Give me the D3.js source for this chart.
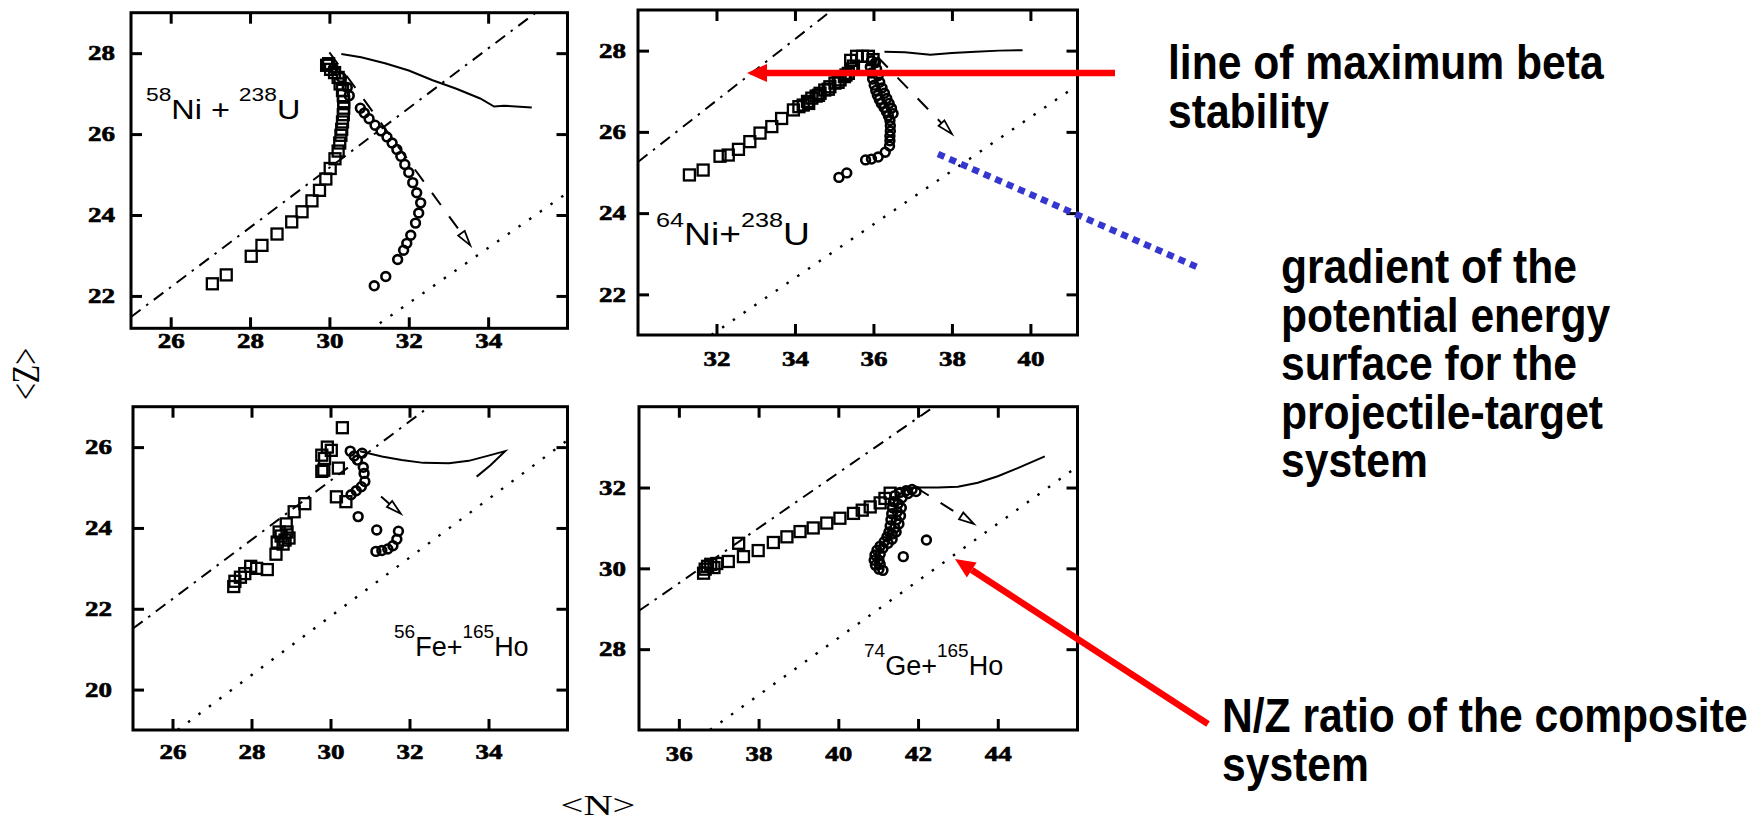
<!DOCTYPE html>
<html>
<head>
<meta charset="utf-8">
<script src="https://cdn.jsdelivr.net/npm/d3@7"></script>
<style>
  body { margin: 0; background: #fff; }
  svg { display: block; }
  .tick text { font-family: 'Liberation Serif', 'Times New Roman', serif; font-weight: bold; font-size: 20px; }
</style>
</head>
<body>
<div id="chart"></div>
<script>
// values, as [N, Z]

// 58Ni + 238U
var ni58Label = [["58", 1], ["Ni + ", 0], ["238", 1], ["U", 0]];
var ni58N = [25, 36], ni58Z = [21.2, 29];
var ni58NTicks = [26, 28, 30, 32, 34], ni58ZTicks = [22, 24, 26, 28];
var ni58Squares = [[27.05,22.30],[27.40,22.52],[28.03,22.98],[28.30,23.25],[28.68,23.53],[29.05,23.83],
  [29.31,24.08],[29.56,24.35],[29.75,24.61],[29.91,24.89],[30.02,25.15],[30.14,25.39],[30.22,25.58],
  [30.26,25.78],[30.29,25.97],[30.31,26.12],[30.33,26.30],[30.35,26.48],[30.36,26.64],[30.36,26.80],
  [30.35,26.95],[30.33,27.08],[30.27,27.24],[30.22,27.40],[30.13,27.52],[30.03,27.60],[29.93,27.70],[29.98,27.74]];
var ni58Circles = [[30.10,27.62],[30.30,27.40],[30.45,27.15],[30.50,26.95],
  [30.78,26.64],[30.88,26.52],[31.00,26.38],[31.15,26.22],[31.30,26.08],[31.45,25.93],[31.58,25.78],
  [31.70,25.62],[31.80,25.45],[31.90,25.25],[32.00,25.05],[32.10,24.80],[32.20,24.55],[32.30,24.30],
  [32.25,24.05],[32.17,23.80],[32.05,23.50],[31.95,23.30],[31.87,23.13],[31.72,22.90],[31.42,22.48],[31.13,22.25]];
var ni58Theory = [[30.3,27.98],[30.8,27.90],[31.4,27.75],[32.0,27.57],[32.6,27.33],[33.2,27.12],
  [33.8,26.88],[34.15,26.68],[34.4,26.70],[35.1,26.66]];
var ni58Gradient = [[30.0,28.02],[33.55,23.25]];
var ni58Beta = [[25.0,21.48],[35.2,29.0]];
var ni58Composite = [[31.0,21.14],[36.0,24.55]];

// 64Ni + 238U
var ni64Label = [["64", 1], ["Ni+", 0], ["238", 1], ["U", 0]];
var ni64N = [30, 41.2], ni64Z = [21, 29];
var ni64NTicks = [32, 34, 36, 38, 40], ni64ZTicks = [22, 24, 26, 28];
var ni64Squares = [[31.31,24.94],[31.66,25.06],[32.09,25.40],[32.30,25.43],[32.56,25.57],[32.85,25.76],
  [33.11,25.97],[33.41,26.13],[33.66,26.33],[33.96,26.54],[34.10,26.62],[34.21,26.66],[34.32,26.75],
  [34.43,26.83],[34.54,26.88],[34.64,26.95],[34.76,27.03],[34.89,27.11],[35.02,27.20],[35.15,27.28],
  [35.26,27.36],[35.36,27.44],[35.45,27.55],[35.49,27.62],[35.42,27.76],[35.57,27.86],[35.72,27.86],
  [35.87,27.86],[35.99,27.78],[34.35,26.70],[34.60,26.90],[34.85,27.05],[35.10,27.22],[35.30,27.40]];
var ni64Circles = [[35.95,27.75],[35.92,27.60],[35.95,27.45],[35.98,27.30],[36.02,27.15],[36.06,27.02],
  [36.10,26.90],[36.15,26.80],[36.20,26.70],[36.27,26.60],[36.33,26.50],[36.38,26.40],[36.42,26.28],
  [36.43,26.15],[36.43,26.02],[36.42,25.90],[36.42,25.78],[36.41,25.65],[36.30,25.50],[36.12,25.38],
  [35.95,25.33],[35.80,25.31],[35.32,24.99],[35.12,24.88],
  [36.08,27.55],[36.12,27.38],[36.16,27.22],[36.22,27.08],[36.28,26.95],[36.34,26.82],[36.40,26.70],
  [36.46,26.58],[36.50,26.45],[36.05,27.70]];
var ni64Theory = [[36.28,27.97],[36.8,27.96],[37.45,27.90],[38.0,27.94],[38.6,27.97],[39.2,28.0],[39.8,28.01]];
var ni64Gradient = [[36.1,27.85],[38.0,25.95]];
var ni64Beta = [[30.0,25.26],[34.95,29.0]];
var ni64Composite = [[31.87,21.0],[41.2,27.15]];

// 56Fe + 165Ho
var fe56Label = [["56", 1], ["Fe+", 0], ["165", 1], ["Ho", 0]];
var fe56N = [25, 36], fe56Z = [19, 27];
var fe56NTicks = [26, 28, 30, 32, 34], fe56ZTicks = [20, 22, 24, 26];
var fe56Squares = [[27.55,22.55],[27.58,22.68],[27.72,22.78],[27.83,22.87],[27.98,23.05],[28.13,23.00],
  [28.40,22.97],[28.62,23.35],[28.65,23.65],[28.75,23.80],[28.85,23.70],[28.90,23.90],[28.70,23.90],
  [28.80,23.60],[28.95,23.75],[28.88,24.10],[29.08,24.40],[29.35,24.60],[29.78,25.40],[29.83,25.43],
  [29.78,25.80],[29.85,25.72],[29.92,26.00],[30.02,25.92],[30.20,25.48],[30.15,24.77],[30.39,24.65],[30.30,26.48]];
var fe56Circles = [[30.50,25.90],[30.60,25.78],[30.68,25.68],[30.80,25.85],[30.83,25.50],[30.85,25.35],
  [30.87,25.15],[30.78,25.02],[30.65,24.92],[30.52,24.82],[30.70,24.28],[31.17,23.95],[31.72,23.92],
  [31.68,23.72],[31.58,23.56],[31.45,23.48],[31.30,23.44],[31.15,23.42]];
var fe56Theory = [[30.75,25.90],[31.3,25.77],[31.8,25.68],[32.35,25.61],[33.0,25.60],[33.5,25.66],
  [34.0,25.79],[34.42,25.90],[34.05,25.55],[33.7,25.27]];
var fe56Gradient = [[31.28,24.78],[31.78,24.35]];
var fe56Beta = [[25.0,21.51],[32.5,27.0]];
var fe56Composite = [[26.13,19.0],[36.0,26.17]];

// 74Ge + 165Ho
var ge74Label = [["74", 1], ["Ge+", 0], ["165", 1], ["Ho", 0]];
var ge74N = [35, 46], ge74Z = [26, 34];
var ge74NTicks = [36, 38, 40, 42, 44], ge74ZTicks = [28, 30, 32];
var ge74Squares = [[36.62,29.88],[36.66,29.98],[36.72,30.05],[36.80,30.10],[36.88,30.02],[36.95,30.12],
  [37.24,30.17],[37.50,30.62],[37.62,30.29],[37.99,30.44],[38.37,30.64],[38.71,30.78],[39.04,30.91],
  [39.37,31.00],[39.71,31.12],[40.04,31.24],[40.38,31.36],[40.60,31.44],[40.80,31.52],[41.05,31.62],
  [41.17,31.73],[41.30,31.86]];
var ge74Circles = [[41.85,31.95],[41.70,31.92],[41.55,31.88],[41.42,31.80],[41.38,31.65],[41.50,31.60],
  [41.36,31.50],[41.48,31.40],[41.34,31.35],[41.32,31.20],[41.46,31.20],[41.30,31.05],[41.42,31.00],
  [41.27,30.90],[41.35,30.85],[41.22,30.78],[41.15,30.66],[41.05,30.55],[40.97,30.45],[40.92,30.33],
  [40.90,30.20],[40.93,30.08],[41.02,29.98],[41.12,29.95],[41.63,30.29],[42.21,30.70],
  [41.60,31.75],[41.58,31.50],[41.56,31.30],[41.52,31.10],[41.45,30.90],[41.35,30.72],[41.25,30.62],
  [41.12,30.50],[41.05,30.35],[41.02,30.20],[41.05,30.10],[41.75,31.85],[41.95,31.90]];
var ge74Theory = [[41.4,31.95],[42.0,32.0],[42.5,32.0],[43.0,32.02],[43.5,32.12],[44.0,32.28],[44.5,32.48],[45.18,32.77]];
var ge74Gradient = [[41.95,32.0],[43.4,31.1]];
var ge74Beta = [[35.0,28.95],[42.4,34.0]];
var ge74Composite = [[36.78,26.0],[46.0,32.52]];

var notes = [
  ["line of maximum beta", "stability"],
  ["gradient of the", "potential energy", "surface for the", "projectile-target", "system"],
  ["N/Z ratio of the composite", "system"]
];

var panels = [
  {label: ni58Label, n: ni58N, z: ni58Z, nTicks: ni58NTicks, zTicks: ni58ZTicks, squares: ni58Squares,
   circles: ni58Circles, theory: ni58Theory, gradient: ni58Gradient, beta: ni58Beta, composite: ni58Composite},
  {label: ni64Label, n: ni64N, z: ni64Z, nTicks: ni64NTicks, zTicks: ni64ZTicks, squares: ni64Squares,
   circles: ni64Circles, theory: ni64Theory, gradient: ni64Gradient, beta: ni64Beta, composite: ni64Composite},
  {label: fe56Label, n: fe56N, z: fe56Z, nTicks: fe56NTicks, zTicks: fe56ZTicks, squares: fe56Squares,
   circles: fe56Circles, theory: fe56Theory, gradient: fe56Gradient, beta: fe56Beta, composite: fe56Composite},
  {label: ge74Label, n: ge74N, z: ge74Z, nTicks: ge74NTicks, zTicks: ge74ZTicks, squares: ge74Squares,
   circles: ge74Circles, theory: ge74Theory, gradient: ge74Gradient, beta: ge74Beta, composite: ge74Composite}
];

// where each frame sits on the page, and its reaction label
var frames = [
  {left: 131, top: 12.7, width: 436.5, height: 315.6, nLab: 348, zLab: 115, lx: 146, ly: 119, big: 27, small: 19, sx: 1.2},
  {left: 638, top: 10, width: 439.5, height: 325, nLab: 366, zLab: 626, lx: 656, ly: 245, big: 31, small: 21, sx: 1.2},
  {left: 133, top: 406.7, width: 434.5, height: 323.3, nLab: 759, zLab: 112, lx: 394, ly: 656, big: 27, small: 19, sx: 1.0},
  {left: 639, top: 406.7, width: 438.5, height: 323.3, nLab: 761, zLab: 626, lx: 864, ly: 675, big: 27, small: 19, sx: 1.0}
];

var width = 1761, height = 824;
var stretch = 1.35; // figure text is drawn wide
var serif = "'Liberation Serif', 'Times New Roman', serif";

var svg = d3.select("#chart").append("svg")
    .attr("width", width)
    .attr("height", height);

panels.forEach(function (p, i) {
  var f = frames[i];
  var x = d3.scaleLinear().domain(p.n).range([0, f.width]);
  var y = d3.scaleLinear().domain(p.z).range([f.height, 0]);
  var line = d3.line().x(function (d) { return x(d[0]); }).y(function (d) { return y(d[1]); });

  var g = svg.append("g").attr("transform", "translate(" + f.left + "," + f.top + ")");
  g.append("clipPath").attr("id", "clip" + i)
    .append("rect").attr("width", f.width).attr("height", f.height);
  var plot = g.append("g").attr("clip-path", "url(#clip" + i + ")");

  plot.append("path").attr("d", line(p.beta))
    .attr("fill", "none").attr("stroke", "#000").attr("stroke-width", 2)
    .attr("stroke-dasharray", "12,7,2.5,7");
  plot.append("path").attr("d", line(p.composite))
    .attr("fill", "none").attr("stroke", "#000").attr("stroke-width", 2.4)
    .attr("stroke-dasharray", "2.5,10.5");
  plot.append("path").attr("d", line(p.theory))
    .attr("fill", "none").attr("stroke", "#000").attr("stroke-width", 2);

  // gradient arrow with an open head
  var x0 = x(p.gradient[0][0]), y0 = y(p.gradient[0][1]);
  var x1 = x(p.gradient[1][0]), y1 = y(p.gradient[1][1]);
  var a = Math.atan2(y1 - y0, x1 - x0), hl = 15, hw = 4;
  var bx = x1 - hl * Math.cos(a), by = y1 - hl * Math.sin(a);
  plot.append("path").attr("d", line([p.gradient[0], [x.invert(bx), y.invert(by)]]))
    .attr("fill", "none").attr("stroke", "#000").attr("stroke-width", 2)
    .attr("stroke-dasharray", "15,14");
  plot.append("polygon")
    .attr("points", [[x1, y1], [bx - hw * Math.sin(a), by + hw * Math.cos(a)],
                     [bx + hw * Math.sin(a), by - hw * Math.cos(a)]].join(" "))
    .attr("fill", "#fff").attr("stroke", "#000").attr("stroke-width", 1.8);

  plot.selectAll("rect.sq").data(p.squares).enter().append("rect")
    .attr("class", "sq")
    .attr("x", function (d) { return x(d[0]) - 5.5; })
    .attr("y", function (d) { return y(d[1]) - 5.5; })
    .attr("width", 11).attr("height", 11)
    .attr("fill", "none").attr("stroke", "#000").attr("stroke-width", 2.3);
  plot.selectAll("circle").data(p.circles).enter().append("circle")
    .attr("cx", function (d) { return x(d[0]); })
    .attr("cy", function (d) { return y(d[1]); })
    .attr("r", 4.4)
    .attr("fill", "none").attr("stroke", "#000").attr("stroke-width", 2.6);

  // axes: inward ticks on all four sides
  function styleAxis(sel) {
    sel.select(".domain").remove();
    sel.selectAll("line").attr("stroke", "#000").attr("stroke-width", 3);
    sel.selectAll("text").attr("fill", "#000").attr("stroke", "#000").attr("stroke-width", 0.6);
  }
  var bottom = g.append("g").attr("transform", "translate(0," + f.height + ")")
    .call(d3.axisBottom(x).tickValues(p.nTicks).tickSize(-11).tickFormat(d3.format("d")));
  styleAxis(bottom);
  bottom.selectAll("text").attr("y", f.nLab - f.top - f.height).attr("dy", 0)
    .attr("transform", "scale(" + stretch + ",1)");
  var top = g.append("g").call(d3.axisTop(x).tickValues(p.nTicks).tickSize(-11).tickFormat(""));
  styleAxis(top);
  var left = g.append("g")
    .call(d3.axisLeft(y).tickValues(p.zTicks).tickSize(-11).tickFormat(d3.format("d")));
  styleAxis(left);
  left.selectAll("text").attr("x", -(f.left - f.zLab) / stretch).attr("dy", "0.34em")
    .attr("transform", "scale(" + stretch + ",1)");
  var right = g.append("g").attr("transform", "translate(" + f.width + ",0)")
    .call(d3.axisRight(y).tickValues(p.zTicks).tickSize(-11).tickFormat(""));
  styleAxis(right);

  g.append("rect").attr("width", f.width).attr("height", f.height)
    .attr("fill", "none").attr("stroke", "#000").attr("stroke-width", 3);

  // reaction label with superscript mass numbers
  var t = svg.append("text")
    .attr("transform", "translate(" + f.lx + "," + f.ly + ") scale(" + f.sx + ",1)")
    .attr("font-family", "'Liberation Sans', Arial, sans-serif")
    .attr("xml:space", "preserve");
  var cur = 0;
  p.label.forEach(function (part) {
    var target = part[1] ? -18 : 0;
    t.append("tspan").text(part[0])
      .attr("font-size", part[1] ? f.small : f.big)
      .attr("dy", target - cur);
    cur = target;
  });
});

// axis titles
svg.append("text")
  .attr("transform", "translate(25,374) scale(" + stretch + ",1) rotate(-90)")
  .attr("text-anchor", "middle").attr("dy", "0.35em")
  .attr("font-family", serif).attr("font-size", 30)
  .text("<Z>");
svg.append("text")
  .attr("transform", "translate(598,815) scale(" + stretch + ",1)")
  .attr("text-anchor", "middle")
  .attr("font-family", serif).attr("font-size", 30)
  .text("<N>");

// call-out arrows
function arrow(x0, y0, x1, y1) {
  var a = Math.atan2(y1 - y0, x1 - x0), hl = 20, hw = 9;
  var bx = x1 - hl * Math.cos(a), by = y1 - hl * Math.sin(a);
  svg.append("line").attr("x1", x0).attr("y1", y0).attr("x2", bx).attr("y2", by)
    .attr("stroke", "#ff0000").attr("stroke-width", 6.5);
  svg.append("polygon")
    .attr("points", [[x1, y1], [bx - hw * Math.sin(a), by + hw * Math.cos(a)],
                     [bx + hw * Math.sin(a), by - hw * Math.cos(a)]].join(" "))
    .attr("fill", "#ff0000");
}
arrow(1115, 73, 747, 73);
arrow(1208, 724, 955, 559);
svg.append("line").attr("x1", 938).attr("y1", 154).attr("x2", 1197).attr("y2", 267)
  .attr("stroke", "#3535d0").attr("stroke-width", 6.5).attr("stroke-dasharray", "7,5.5");

// notes, one text per line
var notePos = [[1168, 79], [1281, 283], [1222, 732]];
notes.forEach(function (lines, i) {
  lines.forEach(function (s, j) {
    svg.append("text")
      .attr("transform", "translate(" + notePos[i][0] + "," + (notePos[i][1] + j * 48.5) + ") scale(0.87,1)")
      .attr("font-family", "'Liberation Sans', Arial, sans-serif")
      .attr("font-weight", "bold").attr("font-size", 49)
      .text(s);
  });
});
</script>
</body>
</html>
